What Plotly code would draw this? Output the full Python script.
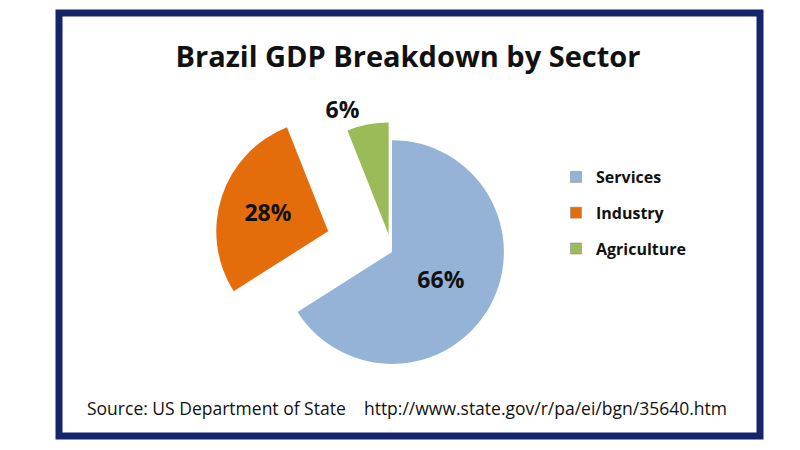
import plotly.graph_objects as go

sectors = ["Services", "Industry", "Agriculture"]
shares = [66, 28, 6]
colors = ["#95b3d7", "#e46c0a", "#9bbb59"]
pulls = [0, 0.6, 0.16]
text_pos = ["inside", "inside", "outside"]

title_text = "Brazil GDP Breakdown by Sector"
source_text = "Source: US Department of State    http://www.state.gov/r/pa/ei/bgn/35640.htm"

W, H = 800, 450
OFF = 8  # page body margin offset


def px(vx):
    return (vx - OFF) / W


def py(vy):
    return 1 - (vy - OFF) / H


fig = go.Figure()
fig.add_trace(go.Pie(
    labels=sectors,
    values=shares,
    sort=False,
    direction="clockwise",
    rotation=0,
    pull=pulls,
    marker=dict(colors=colors, line=dict(width=0)),
    texttemplate="%{percent:.0%}",
    textposition=text_pos,
    insidetextorientation="horizontal",
    textfont=dict(family="Open Sans", size=23, color="#111111", weight="bold"),
    domain=dict(x=[px(213), px(571)], y=[py(431), py(73)]),
    showlegend=False,
    hoverinfo="label+percent",
))

for name, col in zip(sectors, colors):
    fig.add_trace(go.Scatter(
        x=[None], y=[None], mode="markers", name=name, legendgroup=name,
        marker=dict(symbol="square", size=11, color=col,
                    line=dict(color="#7f7f7f", width=0.5)),
        showlegend=True,
    ))

fig.update_layout(
    width=W, height=H,
    margin=dict(l=0, r=0, t=0, b=0, autoexpand=False),
    paper_bgcolor="white",
    plot_bgcolor="white",
    xaxis=dict(visible=False),
    yaxis=dict(visible=False),
    title=dict(text=title_text, x=px(408), xanchor="center", y=py(57), yanchor="middle",
               font=dict(family="Open Sans", size=29, color="#111111", weight="bold")),
    legend=dict(x=px(556), y=py(160), xanchor="left", yanchor="top",
                font=dict(family="Open Sans", size=16, color="#111111", weight="bold"),
                tracegroupgap=12, itemwidth=30,
                bgcolor="rgba(0,0,0,0)"),
    shapes=[dict(type="rect", xref="paper", yref="paper",
                 x0=px(59), x1=px(760), y0=py(436), y1=py(13),
                 line=dict(color="#15246b", width=7), fillcolor="rgba(0,0,0,0)")],
    annotations=[dict(text=source_text, x=px(407), y=py(408), xref="paper", yref="paper",
                      showarrow=False, xanchor="center", yanchor="middle",
                      font=dict(family="Open Sans", size=17.5, color="#111111"))],
)

fig.write_html("out.html")
